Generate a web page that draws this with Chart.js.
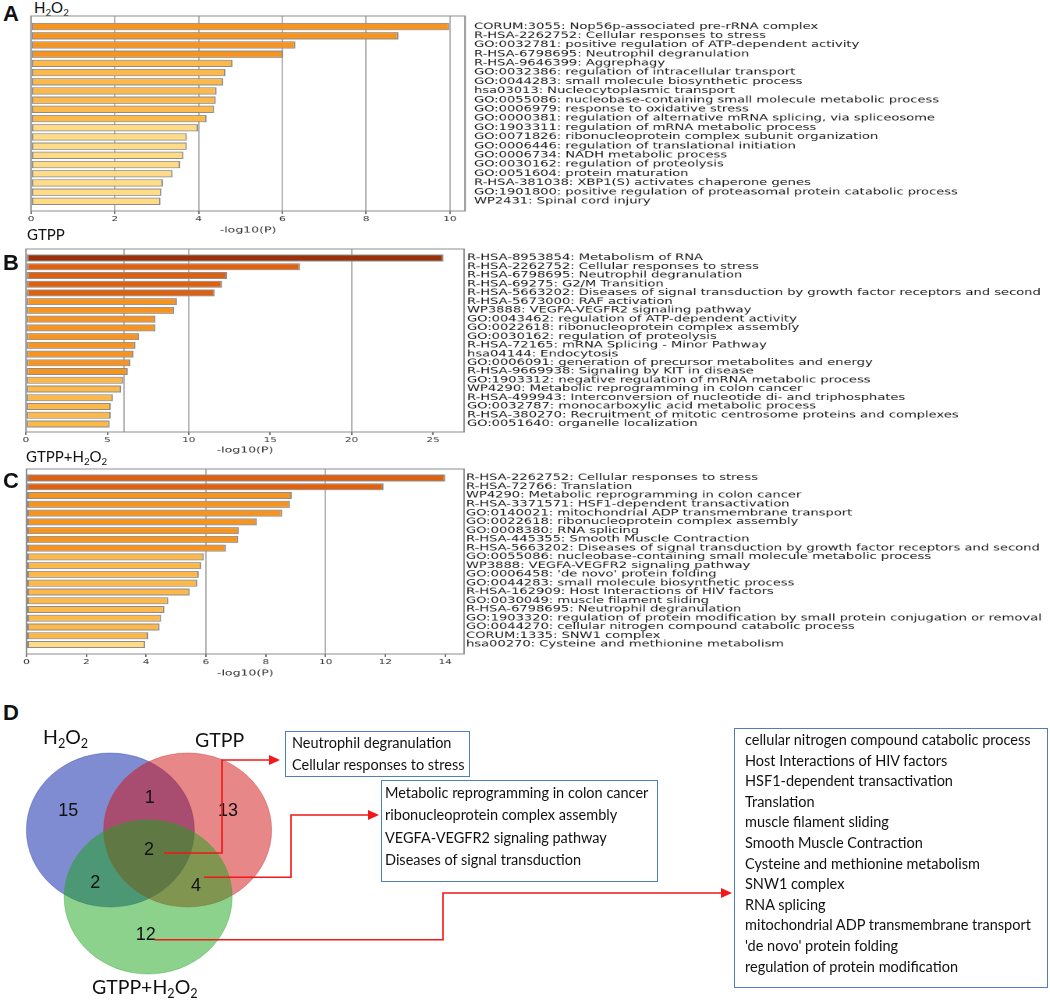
<!DOCTYPE html>
<html>
<head>
<meta charset="utf-8">
<script src="https://cdn.jsdelivr.net/npm/chart.js@4.4.1/dist/chart.umd.min.js"></script>
<style>
html, body { margin: 0; padding: 0; background: #fff; }
body { width: 1050px; height: 1000px; position: relative; overflow: hidden; font-family: Lato, sans-serif; color: #111; }
.panel { position: absolute; left: 0; transform-origin: 0 0; }
.letter { position: absolute; font-family: 'Liberation Sans', Arial, sans-serif; font-weight: bold; font-size: 22px; line-height: 1; }
.title { position: absolute; font-size: 15px; line-height: 1; white-space: nowrap; }
.setname { position: absolute; font-size: 19.5px; line-height: 1; white-space: nowrap; }
sub { font-size: 0.65em; vertical-align: -0.3em; line-height: 0; }
.box { position: absolute; box-sizing: border-box; border: 1.5px solid #4f7fb8; font-size: 14.5px; white-space: nowrap; }
</style>
</head>
<body>

<div class="letter" style="left:3px;top:3px">A</div>
<div class="title" style="left:34px;top:0px">H<sub>2</sub>O<sub>2</sub></div>
<div class="panel" id="panelA"><canvas id="chartA"></canvas></div>

<div class="title" style="left:27px;top:227px">GTPP</div>
<div class="letter" style="left:3px;top:252px">B</div>
<div class="panel" id="panelB"><canvas id="chartB"></canvas></div>

<div class="title" style="left:26px;top:449px">GTPP+H<sub>2</sub>O<sub>2</sub></div>
<div class="letter" style="left:3px;top:470px">C</div>
<div class="panel" id="panelC"><canvas id="chartC"></canvas></div>

<div class="letter" style="left:3px;top:702px">D</div>
<div class="panel" id="panelD" style="top:690px;width:1050px;height:310px"><canvas id="chartD"></canvas></div>
<div class="setname" style="left:43px;top:727px">H<sub>2</sub>O<sub>2</sub></div>
<div class="setname" style="left:195px;top:730px">GTPP</div>
<div class="setname" style="left:92px;top:977px">GTPP+H<sub>2</sub>O<sub>2</sub></div>

<div class="box" id="box1" style="left:285px;top:731px;width:185px;height:46px;line-height:21.7px;padding-left:6px"></div>
<div class="box" id="box2" style="left:381px;top:780px;width:277px;height:102px;line-height:22.5px;padding-top:0.5px;padding-left:3px"></div>
<div class="box" id="box3" style="left:734px;top:728px;width:314px;height:260px;line-height:20.6px;padding-top:1px;padding-left:10px"></div>

<script>
// A: H2O2
const labelsA = [
    'CORUM:3055: Nop56p-associated pre-rRNA complex',
    'R-HSA-2262752: Cellular responses to stress',
    'GO:0032781: positive regulation of ATP-dependent activity',
    'R-HSA-6798695: Neutrophil degranulation',
    'R-HSA-9646399: Aggrephagy',
    'GO:0032386: regulation of intracellular transport',
    'GO:0044283: small molecule biosynthetic process',
    'hsa03013: Nucleocytoplasmic transport',
    'GO:0055086: nucleobase-containing small molecule metabolic process',
    'GO:0006979: response to oxidative stress',
    'GO:0000381: regulation of alternative mRNA splicing, via spliceosome',
    'GO:1903311: regulation of mRNA metabolic process',
    'GO:0071826: ribonucleoprotein complex subunit organization',
    'GO:0006446: regulation of translational initiation',
    'GO:0006734: NADH metabolic process',
    'GO:0030162: regulation of proteolysis',
    'GO:0051604: protein maturation',
    'R-HSA-381038: XBP1(S) activates chaperone genes',
    'GO:1901800: positive regulation of proteasomal protein catabolic process',
    'WP2431: Spinal cord injury'
];
const valuesA = [9.98, 8.77, 6.31, 6.02, 4.81, 4.64, 4.59, 4.43, 4.41, 4.37, 4.19, 3.99, 3.72, 3.72, 3.64, 3.56, 3.38, 3.15, 3.11, 3.09];

// B: GTPP
const labelsB = [
    'R-HSA-8953854: Metabolism of RNA',
    'R-HSA-2262752: Cellular responses to stress',
    'R-HSA-6798695: Neutrophil degranulation',
    'R-HSA-69275: G2/M Transition',
    'R-HSA-5663202: Diseases of signal transduction by growth factor receptors and second',
    'R-HSA-5673000: RAF activation',
    'WP3888: VEGFA-VEGFR2 signaling pathway',
    'GO:0043462: regulation of ATP-dependent activity',
    'GO:0022618: ribonucleoprotein complex assembly',
    'GO:0030162: regulation of proteolysis',
    'R-HSA-72165: mRNA Splicing - Minor Pathway',
    'hsa04144: Endocytosis',
    'GO:0006091: generation of precursor metabolites and energy',
    'R-HSA-9669938: Signaling by KIT in disease',
    'GO:1903312: negative regulation of mRNA metabolic process',
    'WP4290: Metabolic reprogramming in colon cancer',
    'R-HSA-499943: Interconversion of nucleotide di- and triphosphates',
    'GO:0032787: monocarboxylic acid metabolic process',
    'R-HSA-380270: Recruitment of mitotic centrosome proteins and complexes',
    'GO:0051640: organelle localization'
];
const valuesB = [25.64, 16.83, 12.35, 12.04, 11.59, 9.27, 9.10, 7.95, 7.95, 6.94, 6.72, 6.60, 6.41, 6.25, 5.96, 5.84, 5.34, 5.20, 5.20, 5.14];

// C: GTPP+H2O2
const labelsC = [
    'R-HSA-2262752: Cellular responses to stress',
    'R-HSA-72766: Translation',
    'WP4290: Metabolic reprogramming in colon cancer',
    'R-HSA-3371571: HSF1-dependent transactivation',
    'GO:0140021: mitochondrial ADP transmembrane transport',
    'GO:0022618: ribonucleoprotein complex assembly',
    'GO:0008380: RNA splicing',
    'R-HSA-445355: Smooth Muscle Contraction',
    'R-HSA-5663202: Diseases of signal transduction by growth factor receptors and second',
    'GO:0055086: nucleobase-containing small molecule metabolic process',
    'WP3888: VEGFA-VEGFR2 signaling pathway',
    "GO:0006458: 'de novo' protein folding",
    'GO:0044283: small molecule biosynthetic process',
    'R-HSA-162909: Host Interactions of HIV factors',
    'GO:0030049: muscle filament sliding',
    'R-HSA-6798695: Neutrophil degranulation',
    'GO:1903320: regulation of protein modification by small protein conjugation or removal',
    'GO:0044270: cellular nitrogen compound catabolic process',
    'CORUM:1335: SNW1 complex',
    'hsa00270: Cysteine and methionine metabolism'
];
const valuesC = [14.0, 11.94, 8.87, 8.81, 8.55, 7.70, 7.10, 7.08, 6.67, 5.93, 5.84, 5.76, 5.71, 5.46, 4.74, 4.61, 4.50, 4.45, 4.07, 3.97];

// D: Venn
const vennSets = ['H2O2', 'GTPP', 'GTPP+H2O2'];
const vennCentreX = [-0.46, 0.46, -0.01];
const vennCentreY = [0, 0, -0.87];
const vennRegions = ['H2O2 only', 'GTPP only', 'GTPP+H2O2 only', 'H2O2 & GTPP', 'all three', 'H2O2 & GTPP+H2O2', 'GTPP & GTPP+H2O2'];
const vennCounts = [15, 13, 12, 1, 2, 2, 4];
const vennLabelX = [-0.96, 0.94, -0.04, 0.01, 0, -0.64, 0.56];
const vennLabelY = [0.24, 0.24, -1.36, 0.42, -0.26, -0.69, -0.73];

const box1Lines = ['Neutrophil degranulation', 'Cellular responses to stress'];
const box2Lines = ['Metabolic reprogramming in colon cancer', 'ribonucleoprotein complex assembly', 'VEGFA-VEGFR2 signaling pathway', 'Diseases of signal transduction'];
const box3Lines = ['cellular nitrogen compound catabolic process', 'Host Interactions of HIV factors', 'HSF1-dependent transactivation', 'Translation', 'muscle filament sliding', 'Smooth Muscle Contraction', 'Cysteine and methionine metabolism', 'SNW1 complex', 'RNA splicing', 'mitochondrial ADP transmembrane transport', "'de novo' protein folding", 'regulation of protein modification'];

// the bar panels in the figure are stretched sideways
const S = 1.56;

function binColour(v) {
    if (v >= 20) return '#9c300b';
    if (v >= 10) return '#df610f';
    if (v >= 6) return '#f7941f';
    if (v >= 4) return '#fdb84a';
    return '#fedb84';
}

const frame = {
    id: 'frame',
    afterDatasetsDraw(chart) {
        const { ctx, chartArea: a } = chart;
        ctx.save();
        ctx.strokeStyle = '#8c8c8c';
        ctx.lineWidth = 1;
        ctx.strokeRect(a.left, a.top, a.right - a.left, a.bottom - a.top);
        ctx.restore();
    }
};

function enrichmentChart(id, labels, values, o) {
    const wrap = document.getElementById(id);
    wrap.style.top = o.top + 'px';
    wrap.style.height = o.height + 'px';
    wrap.style.width = (1050 / S) + 'px';
    wrap.style.transform = 'scaleX(' + S + ')';
    return new Chart(wrap.querySelector('canvas'), {
        type: 'bar',
        data: {
            datasets: [{
                data: values.map((v, i) => ({ x: v, y: i })),
                backgroundColor: values.map(binColour),
                borderColor: '#8c8c8c',
                borderWidth: 1,
                borderSkipped: false,
                barPercentage: 0.8,
                categoryPercentage: 1
            }]
        },
        options: {
            indexAxis: 'y',
            responsive: true,
            maintainAspectRatio: false,
            animation: false,
            devicePixelRatio: 2,
            layout: { padding: { left: o.left / S, top: o.boxTop - o.top, right: 0, bottom: 0 } },
            plugins: { legend: { display: false }, tooltip: { enabled: false } },
            scales: {
                x: {
                    type: 'linear',
                    position: 'bottom',
                    min: 0,
                    max: o.xMax,
                    offset: false,
                    afterBuildTicks: s => {
                        o.grid.forEach(g => { if (!s.ticks.some(t => t.value === g)) s.ticks.push({ value: g }); });
                        s.ticks.sort((p, q) => p.value - q.value);
                    },
                    ticks: {
                        stepSize: o.step,
                        includeBounds: false,
                        autoSkip: false,
                        maxRotation: 0,
                        callback: v => (v % o.step === 0 ? v : ''),
                        font: { family: 'DejaVu Sans', size: 6.7 },
                        color: '#333',
                        padding: 1
                    },
                    grid: {
                        color: c => (c.tick && o.grid.includes(c.tick.value) ? '#b4b4b4' : 'rgba(0,0,0,0)'),
                        tickColor: c => (c.tick && c.tick.value % o.step === 0 ? '#777' : 'rgba(0,0,0,0)'),
                        tickLength: 3,
                        lineWidth: 1
                    },
                    border: { display: false },
                    title: {
                        display: true,
                        text: '-log10(P)',
                        font: { family: 'DejaVu Sans', size: 8 },
                        color: '#333',
                        padding: { top: 0, bottom: o.titlePad }
                    },
                    afterFit: s => { s.height = o.top + o.height - o.boxBottom; }
                },
                y: {
                    type: 'linear',
                    position: 'right',
                    reverse: true,
                    min: o.yMin,
                    max: o.yMax,
                    offset: false,
                    afterBuildTicks: s => { s.ticks = labels.map((_, i) => ({ value: i })); },
                    ticks: {
                        autoSkip: false,
                        callback: v => labels[v],
                        font: { family: 'DejaVu Sans', size: 8.4 },
                        color: '#1a1a1a',
                        padding: o.labelPad / S
                    },
                    grid: { display: false, drawTicks: false },
                    border: { display: false },
                    afterFit: s => { s.width = (1050 - o.right) / S; }
                }
            }
        },
        plugins: [frame]
    });
}

enrichmentChart('panelA', labelsA, valuesA, {
    top: 0, height: 240, boxTop: 16, boxBottom: 211, left: 31, right: 465,
    xMax: 10.36, step: 2, grid: [2, 4, 6, 8, 10], yMin: -1.15, yMax: 20.05, titlePad: 5, labelPad: 9
});
enrichmentChart('panelB', labelsB, valuesB, {
    top: 240, height: 215, boxTop: 249, boxBottom: 432, left: 26, right: 464,
    xMax: 26.9, step: 5, grid: [6, 10, 20], yMin: -1.03, yMax: 19.92, titlePad: 0, labelPad: 3
});
enrichmentChart('panelC', labelsC, valuesC, {
    top: 460, height: 220, boxTop: 469, boxBottom: 654, left: 26.5, right: 464,
    xMax: 14.63, step: 2, grid: [6, 10], yMin: -1.03, yMax: 20.08, titlePad: 2, labelPad: 2
});

// text boxes of panel D
[['box1', box1Lines], ['box2', box2Lines], ['box3', box3Lines]].forEach(([id, lines]) => {
    const el = document.getElementById(id);
    lines.forEach(t => { const d = document.createElement('div'); d.textContent = t; el.appendChild(d); });
});

// Venn panel
const vennColours = ['rgba(0,25,165,0.5)', 'rgba(209,15,15,0.5)', 'rgba(25,165,25,0.5)'];
const vennEdges = ['rgba(40,60,170,0.35)', 'rgba(200,40,40,0.35)', 'rgba(40,160,40,0.35)'];
const D_TOP = 690;
const arrows = [
    { region: 4, dx: 15, dy: 3, bendX: 222, toY: 760, tipX: 280 },
    { region: 6, dx: 8, dy: -9, bendX: 291, toY: 815, tipX: 379 },
    { region: 2, dx: 9, dy: 5, bendX: 443, toY: 893, tipX: 732 }
];

const venn = {
    id: 'venn',
    beforeDatasetsDraw(chart) {
        const { ctx, scales: { x, y } } = chart;
        const rx = x.getPixelForValue(1) - x.getPixelForValue(0);
        const ry = y.getPixelForValue(0) - y.getPixelForValue(1);
        ctx.save();
        vennSets.forEach((s, i) => {
            ctx.beginPath();
            ctx.ellipse(x.getPixelForValue(vennCentreX[i]), y.getPixelForValue(vennCentreY[i]), rx, ry, 0, 0, Math.PI * 2);
            ctx.fillStyle = vennColours[i];
            ctx.fill();
            ctx.strokeStyle = vennEdges[i];
            ctx.lineWidth = 1;
            ctx.stroke();
        });
        ctx.restore();
    },
    afterDatasetsDraw(chart) {
        const { ctx } = chart;
        const pts = chart.getDatasetMeta(0).data;
        ctx.save();
        ctx.fillStyle = '#111';
        ctx.font = '18px "Liberation Sans", Arial, sans-serif';
        ctx.textAlign = 'center';
        ctx.textBaseline = 'middle';
        pts.forEach((p, i) => ctx.fillText(String(vennCounts[i]), p.x, p.y));

        ctx.strokeStyle = '#f01818';
        ctx.fillStyle = '#f01818';
        ctx.lineWidth = 1.6;
        arrows.forEach(a => {
            const p = pts[a.region];
            const sx = p.x + a.dx, sy = p.y + a.dy;
            const ty = a.toY - D_TOP;
            ctx.beginPath();
            ctx.moveTo(sx, sy);
            ctx.lineTo(a.bendX, sy);
            ctx.lineTo(a.bendX, ty);
            ctx.lineTo(a.tipX - 9, ty);
            ctx.stroke();
            ctx.beginPath();
            ctx.moveTo(a.tipX, ty);
            ctx.lineTo(a.tipX - 11, ty - 5);
            ctx.lineTo(a.tipX - 11, ty + 5);
            ctx.closePath();
            ctx.fill();
        });
        ctx.restore();
    }
};

// 1 unit = 84 px across, 77 px down (the sets are drawn as ellipses)
const xMinD = -149 / 84;
const yMaxD = 140 / 77;
new Chart(document.getElementById('chartD'), {
    type: 'scatter',
    data: {
        labels: vennRegions,
        datasets: [{
            data: vennLabelX.map((v, i) => ({ x: v, y: vennLabelY[i] })),
            pointRadius: 0
        }]
    },
    options: {
        responsive: true,
        maintainAspectRatio: false,
        animation: false,
        layout: { padding: 0 },
        plugins: { legend: { display: false }, tooltip: { enabled: false } },
        scales: {
            x: { type: 'linear', display: false, min: xMinD, max: xMinD + 1050 / 84 },
            y: { type: 'linear', display: false, min: yMaxD - 310 / 77, max: yMaxD }
        }
    },
    plugins: [venn]
});
</script>
</body>
</html>
